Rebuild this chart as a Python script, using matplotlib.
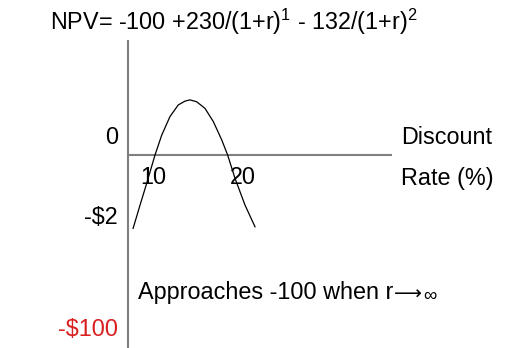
import matplotlib.pyplot as plt

plt.rcParams['font.family'] = ['Liberation Sans', 'DejaVu Sans']
plt.rcParams['mathtext.fontset'] = 'custom'
plt.rcParams['mathtext.rm'] = 'Liberation Sans'
plt.rcParams['mathtext.it'] = 'Liberation Sans'

# NPV profile as drawn (schematic): rate in %, NPV in $
rate = [7.0, 7.95, 8.86, 10.0, 10.92, 12.05, 13.19, 14.11, 14.79, 15.71,
        16.85, 17.99, 19.14, 19.95, 20.96, 22.33, 23.7]
npv = [-2.33, -1.59, -0.9, 0.0, 0.63, 1.22, 1.59, 1.71, 1.75, 1.69,
       1.48, 1.06, 0.48, 0.0, -0.74, -1.59, -2.28]

x_ticks = ['10', '20']
y_labels = ['0', '-$2']
title = r'NPV= -100 +230/(1+r)$^{\mathrm{1}}$ - 132/(1+r)$^{\mathrm{2}}$'
note = 'Approaches -100 when r'

W, H = 510, 348
fig = plt.figure(figsize=(W / 100, H / 100), dpi=100)
ax = fig.add_axes([0, 0, 1, 1])

# pixel <-> data mapping of the slide
px_per_r = 7.3
px_per_usd = 31.5
x0_px, y0_px = 155, 155
def rx(px):
    return 10 + (px - x0_px) / px_per_r
def ny(py):
    return (y0_px - py) / px_per_usd

ax.set_xlim(rx(0), rx(W))
ax.set_ylim(ny(H), ny(0))
ax.axis('off')

axis_col = '#7f7f7f'
ax.plot([rx(128.5), rx(128.5)], [ny(40), ny(H)], color=axis_col, lw=1.5,
        solid_capstyle='butt')
ax.plot([rx(128.5), rx(392)], [0, 0], color=axis_col, lw=1.5,
        solid_capstyle='butt')

ax.plot(rate, npv, color='black', lw=0.9)

fs = 16.8
def t(px, py, s, **kw):
    kw.setdefault('fontsize', fs)
    return ax.text(px / W, 1 - py / H, s, transform=ax.transAxes, **kw)

t(50, 22, title, ha='left', va='center')
t(153, 178, x_ticks[0], ha='center', va='center')
t(243, 178, x_ticks[1], ha='center', va='center')
t(118, 137, y_labels[0], ha='right', va='center')
t(118, 218, y_labels[1], ha='right', va='center')
t(118, 330, '-$100', ha='right', va='center', color='#d91f1f')
t(401, 138, 'Discount', ha='left', va='center')
t(401, 178, 'Rate (%)', ha='left', va='center')

# note, with a long arrow and a small infinity sign after the r
rend = fig.canvas.get_renderer()
nt = t(138, 293, note, ha='left', va='center')
x_end = nt.get_window_extent(rend).x1
arr = t(x_end + 1, 294, '\u27f6', ha='left', va='center',
        family='DejaVu Sans', fontsize=14)
x_arr = arr.get_window_extent(rend).x1
t(x_arr + 0.5, 296, '\u221e', ha='left', va='center', fontsize=13.5)

fig.savefig('out.png', dpi=100)
